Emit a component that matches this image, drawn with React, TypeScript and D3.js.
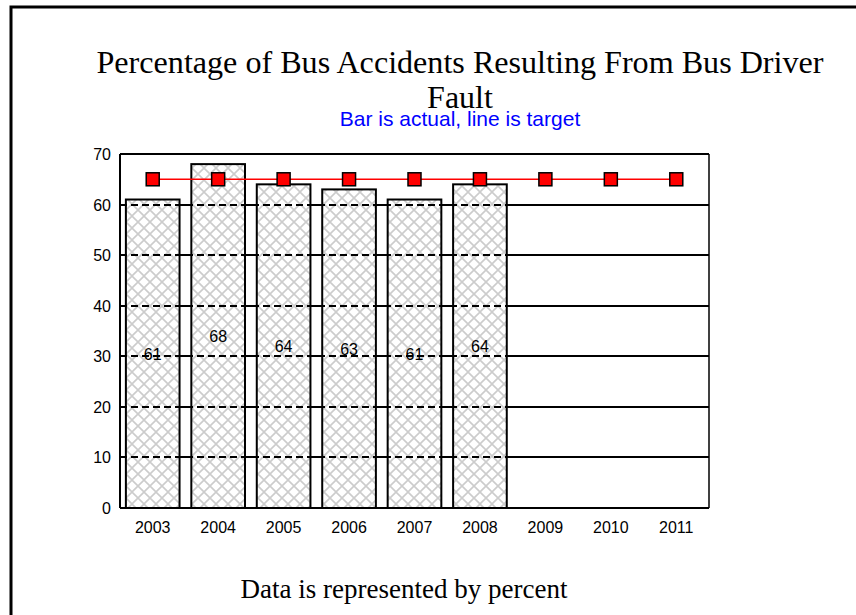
import React from "react";
import * as d3 from "d3";

const years = ["2003", "2004", "2005", "2006", "2007", "2008", "2009", "2010", "2011"];
const actual: (number | null)[] = [61, 68, 64, 63, 61, 64, null, null, null];
const target = [65, 65, 65, 65, 65, 65, 65, 65, 65];
const yTicks = [0, 10, 20, 30, 40, 50, 60, 70];

const W = 856, H = 615;
const plot = { left: 120, right: 709, top: 154, bottom: 508 };

export default function App() {
  const x = d3.scaleBand<string>().domain(years).range([plot.left, plot.right]).paddingInner(0.18).paddingOuter(0.09);
  const y = d3.scaleLinear().domain([0, 70]).range([plot.bottom, plot.top]);
  const line = d3.line<number>().x((_, i) => (x(years[i]) as number) + x.bandwidth() / 2).y((d) => y(d));
  const sans = "'Liberation Sans', Arial, sans-serif";
  const serif = "'Liberation Serif', 'Times New Roman', serif";
  const ry = (v: number) => Math.round(y(v));
  return (
    <svg width={W} height={H} style={{ position: "absolute", left: 0, top: 0, background: "#fff" }}>
      <defs>
        <pattern id="hatch" width="12" height="12" patternUnits="userSpaceOnUse">
          <rect width="12" height="12" fill="#fff" />
          <path d="M0,0 L12,12 M12,0 L0,12 M-1,11 L1,13 M11,-1 L13,1" stroke="#cccccc" strokeWidth="1.6" />
        </pattern>
      </defs>
      <path d={`M11,${H + 10} L11,7 L${W + 10},7`} fill="none" stroke="#000" strokeWidth={3} />
      <text x={460} y={73} textAnchor="middle" fontFamily={serif} fontSize={32} textLength={727} lengthAdjust="spacingAndGlyphs">
        Percentage of Bus Accidents Resulting From Bus Driver
      </text>
      <text x={460} y={108} textAnchor="middle" fontFamily={serif} fontSize={32}>
        Fault
      </text>
      <text x={460} y={126} textAnchor="middle" fontFamily={sans} fontSize={21} fill="#0000ff">
        Bar is actual, line is target
      </text>
      {/* solid gridlines */}
      {yTicks.filter((t) => t > 0).map((t) => (
        <line key={"g" + t} x1={plot.left} x2={plot.right} y1={ry(t)} y2={ry(t)} stroke="#000" strokeWidth={2} shapeRendering="crispEdges" />
      ))}
      {/* bars */}
      {actual.map((v, i) =>
        v == null ? null : (
          <rect key={"b" + i} x={x(years[i])} y={y(v)} width={x.bandwidth()} height={plot.bottom - y(v)}
            fill="url(#hatch)" stroke="#000" strokeWidth={2} />
        )
      )}
      {/* dashed gridlines over bars */}
      {yTicks.filter((t) => t > 0 && t < 70).map((t) => (
        <line key={"d" + t} x1={plot.left} x2={plot.right} y1={ry(t)} y2={ry(t)} stroke="#000" strokeWidth={2} strokeDasharray="7,4" shapeRendering="crispEdges" />
      ))}
      {/* axes */}
      <line x1={plot.left} x2={plot.left} y1={plot.top} y2={plot.bottom} stroke="#000" strokeWidth={2} />
      <line x1={plot.right} x2={plot.right} y1={plot.top} y2={plot.bottom} stroke="#000" strokeWidth={1.5} />
      <line x1={plot.left} x2={plot.right} y1={plot.bottom} y2={plot.bottom} stroke="#000" strokeWidth={2} />
      {yTicks.map((t) => (
        <text key={"yt" + t} x={111} y={y(t) + 6} textAnchor="end" fontFamily={sans} fontSize={16}>{t}</text>
      ))}
      {years.map((yr) => (
        <text key={"xt" + yr} x={(x(yr) as number) + x.bandwidth() / 2} y={533} textAnchor="middle" fontFamily={sans} fontSize={16}>{yr}</text>
      ))}
      {/* value labels */}
      {actual.map((v, i) =>
        v == null ? null : (
          <text key={"v" + i} x={(x(years[i]) as number) + x.bandwidth() / 2} y={y(v / 2) + 6} textAnchor="middle" fontFamily={sans} fontSize={16}>{v}</text>
        )
      )}
      {/* target line */}
      <path d={line(target) as string} fill="none" stroke="#ff0000" strokeWidth={1.5} />
      {target.map((t, i) => (
        <rect key={"m" + i} x={(x(years[i]) as number) + x.bandwidth() / 2 - 6.5} y={y(t) - 6.5} width={13} height={13} fill="#ff0000" stroke="#000" strokeWidth={1.5} />
      ))}
      <text x={404} y={598} textAnchor="middle" fontFamily={serif} fontSize={27}>
        Data is represented by percent
      </text>
    </svg>
  );
}
